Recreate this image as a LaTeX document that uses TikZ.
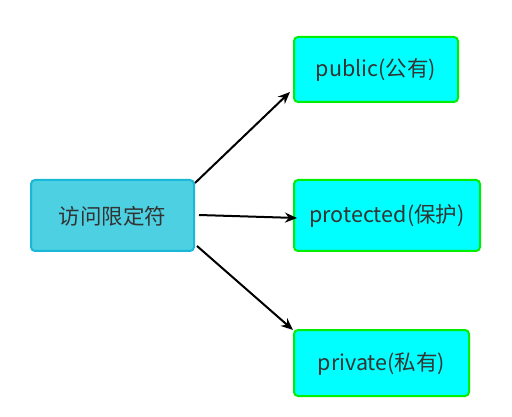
\documentclass[tikz,border=0pt]{standalone}
\usepackage{fontspec}
\setmainfont{Noto Sans CJK SC}
\usetikzlibrary{arrows.meta}
\definecolor{srcfill}{HTML}{4DD0E1}
\definecolor{srcdraw}{HTML}{1AB8D8}
\definecolor{dstfill}{HTML}{00FFFF}
\definecolor{dstdraw}{HTML}{00EE00}
\definecolor{txt}{HTML}{333333}
\tikzset{
  srcbox/.style={draw=srcdraw, fill=srcfill, line width=2pt, rounded corners=4pt},
  dstbox/.style={draw=dstdraw, fill=dstfill, line width=2pt, rounded corners=4pt},
  lbl/.style={text=txt, font=\fontsize{21.5}{24}\selectfont, inner sep=0pt},
  conn/.style={line width=2pt, -{Stealth[length=12pt,width=10pt]}}
}
\begin{document}
\begin{tikzpicture}[x=1pt,y=-1pt]
\useasboundingbox (0,0) rectangle (512,417);
\draw[srcbox] (31,180) rectangle (194,251);
\node[lbl] (src) at (112.5,216) {访问限定符};
\draw[dstbox] (294,37) rectangle (458,102);
\node[lbl] (pub) at (376,70) {public(公有)};
\draw[dstbox] (294,180) rectangle (480,251);
\node[lbl] (pro) at (387,216) {protected(保护)};
\draw[dstbox] (294,330) rectangle (469,396);
\node[lbl] (pri) at (381.5,364) {private(私有)};
\coordinate (a1) at (195,183);
\coordinate (b1) at (290,92);
\coordinate (a2) at (199,215);
\coordinate (b2) at (297,218);
\coordinate (a3) at (197,246);
\coordinate (b3) at (293,330);
\draw[conn] (a1) -- (b1);
\draw[conn] (a2) -- (b2);
\draw[conn] (a3) -- (b3);
\end{tikzpicture}
\end{document}
